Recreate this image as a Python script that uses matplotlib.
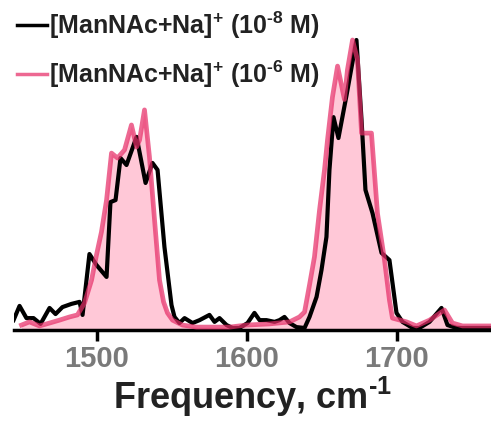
import matplotlib.pyplot as plt
from matplotlib import font_manager

# frequency (cm-1) and normalised intensity
freq_lo = [1444.7, 1448.7, 1453.3, 1458.0, 1462.7, 1468.7, 1472.7, 1477.3, 1483.3, 1488.7,
           1490.7, 1495.3, 1500.0, 1506.7, 1509.3, 1512.7, 1516.0, 1520.0, 1526.7, 1532.7,
           1537.3, 1540.7, 1545.3, 1550.0, 1552.0, 1555.3, 1558.7, 1564.0, 1568.7, 1575.3,
           1578.7, 1582.0, 1586.7, 1590.7, 1595.3, 1600.7, 1605.3, 1608.7, 1613.3, 1618.7,
           1622.0, 1625.3, 1628.7, 1633.3, 1638.7, 1642.0, 1646.7, 1650.0, 1653.3, 1655.3,
           1658.0, 1661.3, 1666.7, 1673.3, 1676.7, 1679.3, 1684.0, 1690.0, 1695.3, 1700.0,
           1704.0, 1710.7, 1715.3, 1722.0, 1730.0, 1734.0, 1740.0, 1762.7]
int_lo = [0.034, 0.083, 0.041, 0.041, 0.021, 0.076, 0.055, 0.079, 0.090, 0.097,
          0.052, 0.262, 0.224, 0.183, 0.441, 0.448, 0.593, 0.569, 0.666, 0.507,
          0.576, 0.552, 0.286, 0.086, 0.045, 0.024, 0.041, 0.024, 0.034, 0.052,
          0.028, 0.041, 0.017, 0.007, 0.007, 0.024, 0.059, 0.034, 0.034, 0.028,
          0.034, 0.045, 0.024, 0.010, 0.007, 0.045, 0.114, 0.207, 0.321, 0.552,
          0.734, 0.662, 0.810, 1.000, 0.724, 0.483, 0.403, 0.266, 0.241, 0.059,
          0.028, 0.007, 0.007, 0.028, 0.076, 0.017, 0.007, 0.007]

freq_hi = [1450.0, 1455.3, 1462.0, 1468.7, 1475.3, 1482.0, 1487.3, 1492.0, 1496.7, 1500.0,
           1503.3, 1506.7, 1510.0, 1514.0, 1518.7, 1523.3, 1526.7, 1528.7, 1532.0, 1535.3,
           1538.7, 1542.0, 1544.7, 1547.3, 1550.7, 1557.3, 1566.7, 1588.7, 1600.0, 1615.3,
           1628.7, 1635.3, 1638.7, 1642.0, 1645.3, 1648.7, 1652.0, 1654.0, 1657.3, 1660.7,
           1665.3, 1667.3, 1670.7, 1674.0, 1676.7, 1683.3, 1687.3, 1692.0, 1695.3, 1697.3,
           1706.7, 1713.3, 1722.0, 1732.0, 1737.3, 1744.0, 1762.7]
int_hi = [0.017, 0.028, 0.014, 0.024, 0.034, 0.045, 0.052, 0.093, 0.172, 0.259,
          0.338, 0.448, 0.610, 0.593, 0.621, 0.707, 0.631, 0.655, 0.759, 0.597,
          0.379, 0.172, 0.097, 0.059, 0.034, 0.017, 0.010, 0.010, 0.017, 0.021,
          0.028, 0.045, 0.062, 0.155, 0.252, 0.414, 0.552, 0.655, 0.803, 0.910,
          0.795, 0.897, 1.000, 0.931, 0.679, 0.679, 0.403, 0.241, 0.103, 0.041,
          0.028, 0.014, 0.034, 0.069, 0.024, 0.014, 0.014]

label_lo = '[ManNAc+Na]$^{+}$ (10$^{\u2010 8}$ M)'
label_hi = '[ManNAc+Na]$^{+}$ (10$^{\u2010 6}$ M)'
ticks = [1500, 1600, 1700]

names = {f.name for f in font_manager.fontManager.ttflist}
fam = ['Liberation Sans Narrow', 'DejaVu Sans'] if 'Liberation Sans Narrow' in names else ['Liberation Sans', 'DejaVu Sans']
plt.rcParams['font.family'] = fam
plt.rcParams['font.weight'] = 'bold'
plt.rcParams['axes.labelweight'] = 'bold'
plt.rcParams['mathtext.default'] = 'regular'

pink = '#e62e68'

fig = plt.figure(figsize=(4.91, 4.23), dpi=100)
ax = fig.add_axes([14 / 491, 93 / 423, 477 / 491, 330 / 423])

ax.fill_between(freq_hi, int_hi, 0, color='#ffc8d7', lw=0, zorder=1)
ax.plot(freq_lo, int_lo, color='black', lw=3, solid_joinstyle='round', zorder=2, label=label_lo)
ax.plot(freq_hi, int_hi, color=pink, lw=3.4, alpha=0.72, solid_joinstyle='round', zorder=3, label=label_hi)

ax.set_xlim(1445, 1763)
ax.set_ylim(0, 330 / 290)
ax.set_yticks([])
for s in ['top', 'right', 'left']:
    ax.spines[s].set_visible(False)
ax.spines['bottom'].set_linewidth(2.5)
ax.set_xticks(ticks)
ax.tick_params(axis='x', length=8, width=2.5, labelsize=21, labelcolor='#7a7a7a', pad=3)
ax.set_xlabel('Frequency, cm$^{\u20101}$', fontsize=26, fontweight='bold', color='#222222', labelpad=1)

leg = ax.legend(loc='upper left', bbox_to_anchor=(0.0, 0.98), frameon=False,
                fontsize=18, handlelength=1.2, handletextpad=0.1, labelspacing=0.72,
                borderaxespad=0, borderpad=0.1)
for t in leg.get_texts():
    t.set_color('#222222')
for h in leg.get_lines():
    h.set_linewidth(2.5)

fig.savefig('out.png', dpi=100)
